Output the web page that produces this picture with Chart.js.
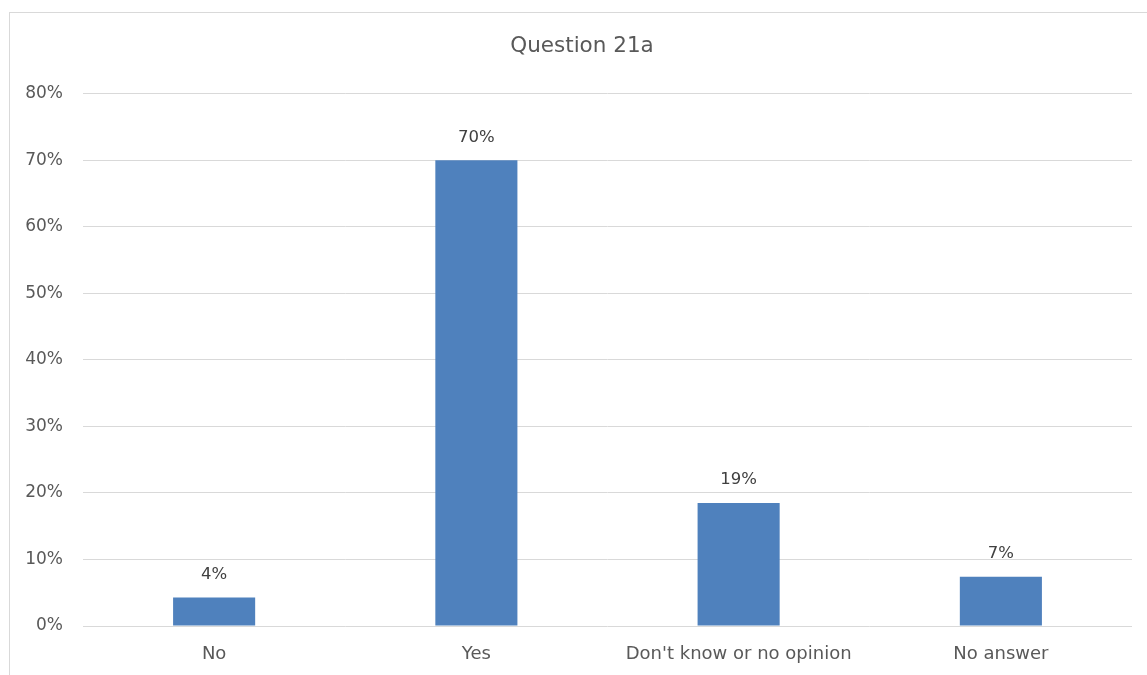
<!DOCTYPE html>
<html>
<head>
<meta charset="utf-8">
<script src="https://cdn.jsdelivr.net/npm/chart.js@4.4.0/dist/chart.umd.min.js"></script>
<style>
  html, body { margin: 0; padding: 0; background: #fff; overflow: hidden; }
  #frame {
    position: absolute; left: 9px; top: 12px;
    width: 1200px; height: 700px;
    border: 1px solid #d9d9d9;
  }
  #chart { position: absolute; left: 0; top: 0; }
</style>
</head>
<body>
<div id="frame"></div>
<canvas id="chart" width="1147" height="675"></canvas>
<script>
"strict";

// values (percent)
const categories = ["No", "Yes", "Don't know or no opinion", "No answer"];
const shares = [4.3, 70.0, 18.5, 7.4];
const yTicks = [0, 10, 20, 30, 40, 50, 60, 70, 80];

const textColor = "#595959";
const fontFamily = "'DejaVu Sans', sans-serif";

// draws the % label above each bar, and centres the title on the frame
const barLabels = {
  id: "barLabels",
  afterLayout(chart) {
    if (chart.titleBlock) chart.titleBlock.left = 32;
  },
  afterDatasetsDraw(chart) {
    const ctx = chart.ctx;
    const meta = chart.getDatasetMeta(0);
    ctx.save();
    ctx.fillStyle = "#404040";
    ctx.font = "16.5px " + fontFamily;
    ctx.textAlign = "center";
    ctx.textBaseline = "middle";
    meta.data.forEach((bar, i) => {
      ctx.fillText(Math.round(shares[i]) + "%", bar.x, bar.y - 23);
    });
    ctx.restore();
  },
};

function renderChart(canvasId) {
  const ctx = document.getElementById(canvasId).getContext("2d");
  return new Chart(ctx, {
    type: "bar",
    data: {
      labels: categories,
      datasets: [
        {
          label: "Question 21a",
          data: shares,
          backgroundColor: "#4f81bd",
          categoryPercentage: 1,
          barPercentage: 0.313,
        },
      ],
    },
    options: {
      responsive: false,
      animation: false,
      layout: { padding: { left: 0, right: 15, top: 0, bottom: 0 } },
      plugins: {
        legend: { display: false },
        tooltip: { enabled: false },
        title: {
          display: true,
          text: "Question 21a",
          color: textColor,
          font: { family: fontFamily, size: 21.5, weight: "normal" },
          padding: { top: 34, bottom: 34 },
        },
      },
      scales: {
        x: {
          afterFit(scale) {
            scale.height = 49;
          },
          grid: { display: false, drawTicks: false },
          border: { display: false },
          ticks: {
            color: textColor,
            font: { family: fontFamily, size: 18 },
            padding: 18,
          },
        },
        y: {
          min: 0,
          max: 80,
          afterBuildTicks(scale) {
            scale.ticks = yTicks.map((v) => ({ value: v }));
          },
          afterFit(scale) {
            scale.width = 83;
          },
          grid: { color: "#d9d9d9", drawTicks: false, lineWidth: 1 },
          border: { display: false },
          ticks: {
            color: textColor,
            font: { family: fontFamily, size: 17 },
            padding: 20,
            callback: (v) => v + "%",
          },
        },
      },
    },
    plugins: [barLabels],
  });
}

const questionChart = renderChart("chart");
</script>
</body>
</html>
